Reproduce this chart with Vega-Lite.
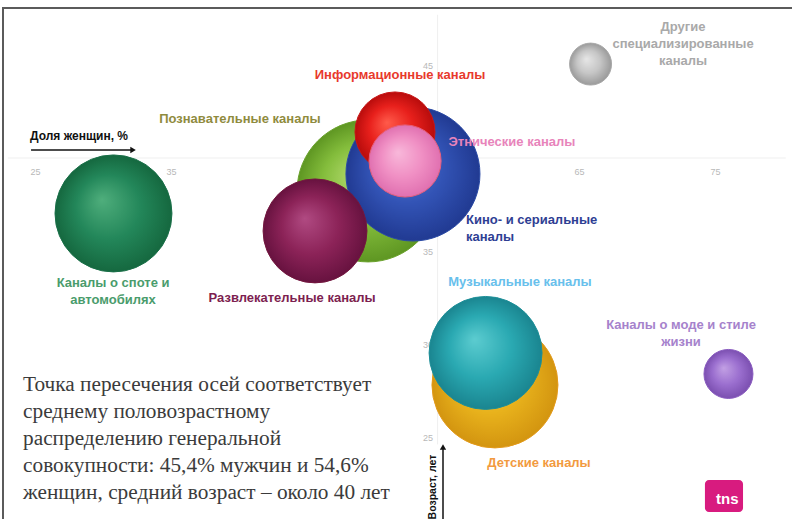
{
  "$schema": "https://vega.github.io/schema/vega-lite/v6.json",
  "width": 790,
  "height": 512,
  "autosize": {"type": "none"},
  "padding": {"left": 3, "top": 8, "right": -1, "bottom": -1},
  "background": "white",
  "config": {
    "view": {"stroke": "#5b5b5b", "strokeWidth": 2},
    "font": "Liberation Sans"
  },
  "datasets": {
    "channels": [
      {"name": "Каналы о споте и автомобилях", "women": 30.77, "age": 37.02, "audience": 34.2},
      {"name": "Другие специализированные каналы", "women": 65.85, "age": 45.05, "audience": 4.4},
      {"name": "Каналы о моде и стиле жизни", "women": 75.99, "age": 28.39, "audience": 6.0},
      {"name": "Познавательные каналы", "women": 49.49, "age": 38.23, "audience": 50.4},
      {"name": "Кино- и сериальные каналы", "women": 52.79, "age": 39.14, "audience": 44.9},
      {"name": "Развлекательные каналы", "women": 45.59, "age": 36.08, "audience": 27.0},
      {"name": "Информационные каналы", "women": 51.47, "age": 41.40, "audience": 16.0},
      {"name": "Этнические каналы", "women": 52.21, "age": 39.84, "audience": 13.0},
      {"name": "Детские каналы", "women": 58.82, "age": 27.80, "audience": 39.7},
      {"name": "Музыкальные каналы", "women": 58.13, "age": 29.52, "audience": 31.9}
    ],
    "labels": [
      {"name": "Каналы о споте и автомобилях", "label": ["Каналы о споте и", "автомобилях"], "women": 30.74, "age": 33.27},
      {"name": "Другие специализированные каналы", "label": ["Другие", "специализированные", "каналы"], "women": 72.65, "age": 47.04},
      {"name": "Каналы о моде и стиле жизни", "label": ["Каналы о моде и стиле", "жизни"], "women": 72.5, "age": 31.02},
      {"name": "Познавательные каналы", "label": ["Познавательные каналы"], "women": 40.07, "age": 42.10},
      {"name": "Развлекательные каналы", "label": ["Развлекательные каналы"], "women": 43.90, "age": 32.47},
      {"name": "Информационные каналы", "label": ["Информационные каналы"], "women": 51.84, "age": 44.46},
      {"name": "Этнические каналы", "label": ["Этнические каналы"], "women": 60.07, "age": 40.86},
      {"name": "Детские каналы", "label": ["Детские каналы"], "women": 62.06, "age": 23.60},
      {"name": "Музыкальные каналы", "label": ["Музыкальные каналы"], "women": 60.66, "age": 33.33}
    ],
    "leftLabels": [
      {"name": "Кино- и сериальные каналы", "label": ["Кино- и сериальные", "каналы"], "women": 56.69, "age": 36.67}
    ],
    "crosshair": [
      {"line": "vertical", "women": 54.6, "women2": 54.6, "age": 24.6, "age2": 47.7},
      {"line": "horizontal", "women": 23.0, "women2": 80.2, "age": 40, "age2": 40}
    ],
    "arrows": [
      {"dir": "right", "women": 24.71, "women2": 32.21, "age": 40.43, "age2": 40.43},
      {"dir": "up", "women": 55.0, "women2": 55.0, "age": 20.54, "age2": 24.46}
    ],
    "axisTitles": [
      {"label": "Доля женщин, %", "women": 24.63, "age": 41.18}
    ],
    "ageTitle": [
      {"label": "Возраст, лет", "women": 54.26, "age": 22.31}
    ],
    "note": [
      {"label": ["Точка пересечения осей соответствует", "среднему половозрастному", "распределению генеральной", "совокупности: 45,4% мужчин и 54,6%", "женщин, средний возраст – около 40 лет"], "women": 24.12, "age": 27.80}
    ],
    "logo": [
      {"label": "tns", "women": 74.26, "women2": 77.06, "age": 22.69, "age2": 20.97, "textWomen": 75.9, "textAge": 21.67}
    ]
  },
  "encoding": {
    "x": {
      "field": "women",
      "type": "quantitative",
      "scale": {"domain": [22.647, 80.735], "nice": false, "zero": false},
      "axis": {
        "orient": "bottom",
        "offset": -362,
        "values": [25, 35, 45, 55, 65, 75],
        "domain": false,
        "ticks": false,
        "grid": false,
        "labelPadding": 9,
        "labelFontSize": 9,
        "labelColor": "#b8b8b8",
        "labelFont": "Liberation Sans",
        "title": null
      }
    },
    "y": {
      "field": "age",
      "type": "quantitative",
      "scale": {"domain": [20.538, 48.065], "nice": false, "zero": false},
      "axis": {
        "orient": "left",
        "offset": -434.5,
        "values": [25, 30, 35, 45],
        "domain": false,
        "ticks": false,
        "grid": false,
        "labelPadding": 5,
        "labelFontSize": 9,
        "labelColor": "#b8b8b8",
        "labelFont": "Liberation Sans",
        "title": null
      }
    }
  },
  "layer": [
    {
      "data": {"name": "crosshair"},
      "mark": {"type": "rule", "color": "#efefef", "strokeWidth": 1},
      "encoding": {"x2": {"field": "women2"}, "y2": {"field": "age2"}}
    },
    {
      "data": {"name": "channels"},
      "transform": [{"filter": "datum.name === 'Каналы о споте и автомобилях'"}],
      "mark": {"type": "point", "shape": "circle", "opacity": 1, "strokeWidth": 1, "stroke": "#1a7049",
        "fill": {"gradient": "radial", "x1": 0.4, "y1": 0.38, "r1": 0, "x2": 0.5, "y2": 0.5, "r2": 0.5, "stops": [{"offset": 0, "color": "#4fae7c"}, {"offset": 0.55, "color": "#23875a"}, {"offset": 1, "color": "#15683f"}]}},
      "encoding": {"size": {"field": "audience", "type": "quantitative", "scale": {"domain": [0, 100], "range": [0, 40000]}, "legend": null}}
    },
    {
      "data": {"name": "channels"},
      "transform": [{"filter": "datum.name === 'Другие специализированные каналы'"}],
      "mark": {"type": "point", "shape": "circle", "opacity": 1, "strokeWidth": 1, "stroke": "#a8a8a8",
        "fill": {"gradient": "radial", "x1": 0.4, "y1": 0.38, "r1": 0, "x2": 0.5, "y2": 0.5, "r2": 0.5, "stops": [{"offset": 0, "color": "#e6e6e6"}, {"offset": 0.55, "color": "#c6c6c6"}, {"offset": 1, "color": "#9a9a9a"}]}},
      "encoding": {"size": {"field": "audience", "type": "quantitative", "scale": {"domain": [0, 100], "range": [0, 40000]}, "legend": null}}
    },
    {
      "data": {"name": "channels"},
      "transform": [{"filter": "datum.name === 'Каналы о моде и стиле жизни'"}],
      "mark": {"type": "point", "shape": "circle", "opacity": 1, "strokeWidth": 1, "stroke": "#8a5cc0",
        "fill": {"gradient": "radial", "x1": 0.4, "y1": 0.38, "r1": 0, "x2": 0.5, "y2": 0.5, "r2": 0.5, "stops": [{"offset": 0, "color": "#c2a0e4"}, {"offset": 0.55, "color": "#9b6fcf"}, {"offset": 1, "color": "#7b4fb0"}]}},
      "encoding": {"size": {"field": "audience", "type": "quantitative", "scale": {"domain": [0, 100], "range": [0, 40000]}, "legend": null}}
    },
    {
      "data": {"name": "channels"},
      "transform": [{"filter": "datum.name === 'Познавательные каналы'"}],
      "mark": {"type": "point", "shape": "circle", "opacity": 1, "strokeWidth": 1, "stroke": "#6aa22c",
        "fill": {"gradient": "radial", "x1": 0.4, "y1": 0.38, "r1": 0, "x2": 0.5, "y2": 0.5, "r2": 0.5, "stops": [{"offset": 0, "color": "#b0d86a"}, {"offset": 0.55, "color": "#84bd3c"}, {"offset": 1, "color": "#5e9622"}]}},
      "encoding": {"size": {"field": "audience", "type": "quantitative", "scale": {"domain": [0, 100], "range": [0, 40000]}, "legend": null}}
    },
    {
      "data": {"name": "channels"},
      "transform": [{"filter": "datum.name === 'Кино- и сериальные каналы'"}],
      "mark": {"type": "point", "shape": "circle", "opacity": 1, "strokeWidth": 1, "stroke": "#2a4aa5",
        "fill": {"gradient": "radial", "x1": 0.4, "y1": 0.38, "r1": 0, "x2": 0.5, "y2": 0.5, "r2": 0.5, "stops": [{"offset": 0, "color": "#5b7fd6"}, {"offset": 0.55, "color": "#3253b5"}, {"offset": 1, "color": "#213a92"}]}},
      "encoding": {"size": {"field": "audience", "type": "quantitative", "scale": {"domain": [0, 100], "range": [0, 40000]}, "legend": null}}
    },
    {
      "data": {"name": "channels"},
      "transform": [{"filter": "datum.name === 'Развлекательные каналы'"}],
      "mark": {"type": "point", "shape": "circle", "opacity": 1, "strokeWidth": 1, "stroke": "#74173f",
        "fill": {"gradient": "radial", "x1": 0.4, "y1": 0.38, "r1": 0, "x2": 0.5, "y2": 0.5, "r2": 0.5, "stops": [{"offset": 0, "color": "#b04a82"}, {"offset": 0.55, "color": "#8c2358"}, {"offset": 1, "color": "#67123f"}]}},
      "encoding": {"size": {"field": "audience", "type": "quantitative", "scale": {"domain": [0, 100], "range": [0, 40000]}, "legend": null}}
    },
    {
      "data": {"name": "channels"},
      "transform": [{"filter": "datum.name === 'Информационные каналы'"}],
      "mark": {"type": "point", "shape": "circle", "opacity": 1, "strokeWidth": 1, "stroke": "#c81616",
        "fill": {"gradient": "radial", "x1": 0.4, "y1": 0.38, "r1": 0, "x2": 0.5, "y2": 0.5, "r2": 0.5, "stops": [{"offset": 0, "color": "#ff5a4a"}, {"offset": 0.55, "color": "#e8201c"}, {"offset": 1, "color": "#b80c0c"}]}},
      "encoding": {"size": {"field": "audience", "type": "quantitative", "scale": {"domain": [0, 100], "range": [0, 40000]}, "legend": null}}
    },
    {
      "data": {"name": "channels"},
      "transform": [{"filter": "datum.name === 'Этнические каналы'"}],
      "mark": {"type": "point", "shape": "circle", "opacity": 1, "strokeWidth": 1, "stroke": "#e4607c",
        "fill": {"gradient": "radial", "x1": 0.4, "y1": 0.38, "r1": 0, "x2": 0.5, "y2": 0.5, "r2": 0.5, "stops": [{"offset": 0, "color": "#f8b8da"}, {"offset": 0.55, "color": "#f090c4"}, {"offset": 1, "color": "#e070b0"}]}},
      "encoding": {"size": {"field": "audience", "type": "quantitative", "scale": {"domain": [0, 100], "range": [0, 40000]}, "legend": null}}
    },
    {
      "data": {"name": "channels"},
      "transform": [{"filter": "datum.name === 'Детские каналы'"}],
      "mark": {"type": "point", "shape": "circle", "opacity": 1, "strokeWidth": 1, "stroke": "#e39a1a",
        "fill": {"gradient": "radial", "x1": 0.4, "y1": 0.38, "r1": 0, "x2": 0.5, "y2": 0.5, "r2": 0.5, "stops": [{"offset": 0, "color": "#f5cf50"}, {"offset": 0.55, "color": "#e8b21c"}, {"offset": 1, "color": "#d39510"}]}},
      "encoding": {"size": {"field": "audience", "type": "quantitative", "scale": {"domain": [0, 100], "range": [0, 40000]}, "legend": null}}
    },
    {
      "data": {"name": "channels"},
      "transform": [{"filter": "datum.name === 'Музыкальные каналы'"}],
      "mark": {"type": "point", "shape": "circle", "opacity": 1, "strokeWidth": 1, "stroke": "#1d8f98",
        "fill": {"gradient": "radial", "x1": 0.4, "y1": 0.38, "r1": 0, "x2": 0.5, "y2": 0.5, "r2": 0.5, "stops": [{"offset": 0, "color": "#5cccd0"}, {"offset": 0.55, "color": "#2aa9b2"}, {"offset": 1, "color": "#1a8590"}]}},
      "encoding": {"size": {"field": "audience", "type": "quantitative", "scale": {"domain": [0, 100], "range": [0, 40000]}, "legend": null}}
    },
    {
      "data": {"name": "labels"},
      "mark": {"type": "text", "font": "Liberation Sans", "fontWeight": "bold", "fontSize": 13, "lineHeight": 17, "align": "center", "baseline": "middle"},
      "encoding": {
        "text": {"field": "label"},
        "color": {
          "field": "name",
          "type": "nominal",
          "legend": null,
          "scale": {
            "domain": ["Каналы о споте и автомобилях", "Другие специализированные каналы", "Каналы о моде и стиле жизни", "Познавательные каналы", "Кино- и сериальные каналы", "Развлекательные каналы", "Информационные каналы", "Этнические каналы", "Детские каналы", "Музыкальные каналы"],
            "range": ["#4a9c6c", "#a9a9a9", "#a682cc", "#8f8b3e", "#2e3e93", "#7d1f50", "#e8392c", "#e884bb", "#f29a3f", "#68c0ec"]
          }
        }
      }
    },
    {
      "data": {"name": "leftLabels"},
      "mark": {"type": "text", "font": "Liberation Sans", "fontWeight": "bold", "fontSize": 13, "lineHeight": 17, "align": "left", "baseline": "middle"},
      "encoding": {
        "text": {"field": "label"},
        "color": {"field": "name", "type": "nominal", "legend": null}
      }
    },
    {
      "data": {"name": "arrows"},
      "mark": {"type": "rule", "color": "#111111", "strokeWidth": 1.5},
      "encoding": {"x2": {"field": "women2"}, "y2": {"field": "age2"}}
    },
    {
      "data": {"name": "arrows"},
      "mark": {"type": "point", "filled": true, "opacity": 1, "color": "#111111", "size": 40},
      "encoding": {
        "x": {"field": "women2", "type": "quantitative"},
        "y": {"field": "age2", "type": "quantitative"},
        "shape": {"field": "dir", "type": "nominal", "legend": null, "scale": {"domain": ["right", "up"], "range": ["triangle-right", "triangle-up"]}}
      }
    },
    {
      "data": {"name": "axisTitles"},
      "mark": {"type": "text", "font": "Liberation Sans", "fontWeight": "bold", "fontSize": 12, "align": "left", "baseline": "middle", "color": "#111111"},
      "encoding": {"text": {"field": "label"}}
    },
    {
      "data": {"name": "ageTitle"},
      "mark": {"type": "text", "font": "Liberation Sans", "fontWeight": "bold", "fontSize": 10.5, "align": "center", "baseline": "middle", "angle": 270, "color": "#111111"},
      "encoding": {"text": {"field": "label"}}
    },
    {
      "data": {"name": "note"},
      "mark": {"type": "text", "font": "Liberation Serif", "fontSize": 21.3, "lineHeight": 27, "align": "left", "baseline": "middle", "color": "#3b3b3b"},
      "encoding": {"text": {"field": "label"}}
    },
    {
      "data": {"name": "logo"},
      "mark": {"type": "rect", "color": "#d81b7f", "cornerRadius": 4},
      "encoding": {"x2": {"field": "women2"}, "y2": {"field": "age2"}}
    },
    {
      "data": {"name": "logo"},
      "mark": {"type": "text", "font": "Liberation Sans", "fontWeight": "bold", "fontSize": 15, "align": "center", "baseline": "middle", "color": "white"},
      "encoding": {
        "x": {"field": "textWomen", "type": "quantitative"},
        "y": {"field": "textAge", "type": "quantitative"},
        "text": {"field": "label"}
      }
    }
  ]
}
